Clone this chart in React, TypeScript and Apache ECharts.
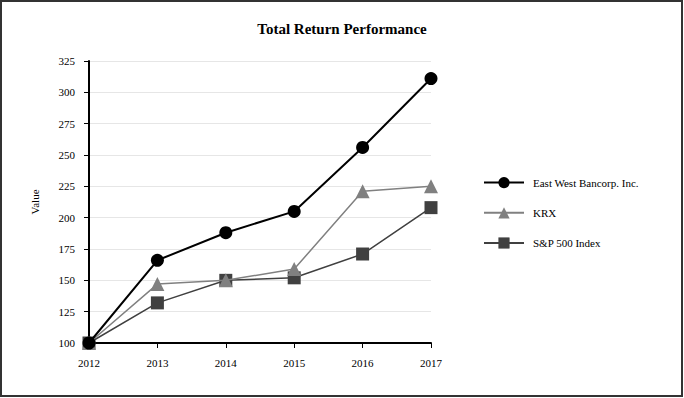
import React, { useEffect, useRef } from "react";
import * as echarts from "echarts";

const years = ["2012", "2013", "2014", "2015", "2016", "2017"];
const eastWest = [100, 166, 188, 205, 256, 311];
const krx = [100, 147, 150, 159, 221, 225];
const sp500 = [100, 132, 150, 152, 171, 208];
const seriesNames = ["East West Bancorp. Inc.", "KRX", "S&P 500 Index"];

export default function App() {
  const ref = useRef<HTMLDivElement>(null);
  useEffect(() => {
    if (!ref.current) return;
    const chart = echarts.init(ref.current, undefined, { renderer: "svg" });
    const font = "'Liberation Serif', 'Times New Roman', serif";
    chart.setOption({
      animation: false,
      textStyle: { fontFamily: font },
      title: {
        text: "Total Return Performance",
        left: "center",
        top: 16,
        textStyle: { fontFamily: font, fontSize: 15, fontWeight: "bold", color: "#000" },
      },
      graphic: [
        {
          type: "rect",
          shape: { x: 1, y: 1, width: 681, height: 395 },
          style: { fill: "none", stroke: "#333", lineWidth: 2 },
          silent: true,
        },
      ],
      legend: {
        orient: "vertical",
        left: 478,
        top: 172,
        itemWidth: 40,
        itemHeight: 14,
        itemGap: 19,
        textStyle: { fontFamily: font, fontSize: 11, color: "#000", padding: [0, 0, 0, 4] },
        data: seriesNames,
      },
      grid: { left: 89, right: 253, top: 61, bottom: 55 },
      xAxis: {
        type: "category",
        data: years,
        boundaryGap: false,
        axisLine: { lineStyle: { color: "#000", width: 2 } },
        axisTick: { show: true, length: 5, lineStyle: { color: "#000" } },
        axisLabel: { fontFamily: font, fontSize: 11, color: "#000", margin: 14 },
      },
      yAxis: {
        type: "value",
        min: 100,
        max: 325,
        interval: 25,
        name: "Value",
        nameLocation: "middle",
        nameRotate: 90,
        nameGap: 49,
        nameTextStyle: { fontFamily: font, fontSize: 11, color: "#000" },
        axisLine: { show: true, lineStyle: { color: "#000", width: 2 } },
        axisTick: { show: true, length: 5, lineStyle: { color: "#000" } },
        axisLabel: { fontFamily: font, fontSize: 11, color: "#000", margin: 14 },
        splitLine: { lineStyle: { color: "#e6e6e6" } },
      },
      series: [
        {
          name: seriesNames[0],
          type: "line",
          data: eastWest,
          symbol: "circle",
          symbolSize: 13,
          lineStyle: { color: "#000", width: 2 },
          itemStyle: { color: "#000" },
          z: 3,
        },
        {
          name: seriesNames[1],
          type: "line",
          data: krx,
          symbol: "triangle",
          symbolSize: 14,
          lineStyle: { color: "#808080", width: 1.5 },
          itemStyle: { color: "#808080" },
          z: 2,
        },
        {
          name: seriesNames[2],
          type: "line",
          data: sp500,
          symbol: "rect",
          symbolSize: 13,
          lineStyle: { color: "#404040", width: 1.5 },
          itemStyle: { color: "#404040" },
          z: 1,
        },
      ],
    });
    return () => chart.dispose();
  }, []);
  return (
    <div
      ref={ref}
      style={{ position: "fixed", left: 0, top: 0, width: 684, height: 398, background: "#fff" }}
    />
  );
}
